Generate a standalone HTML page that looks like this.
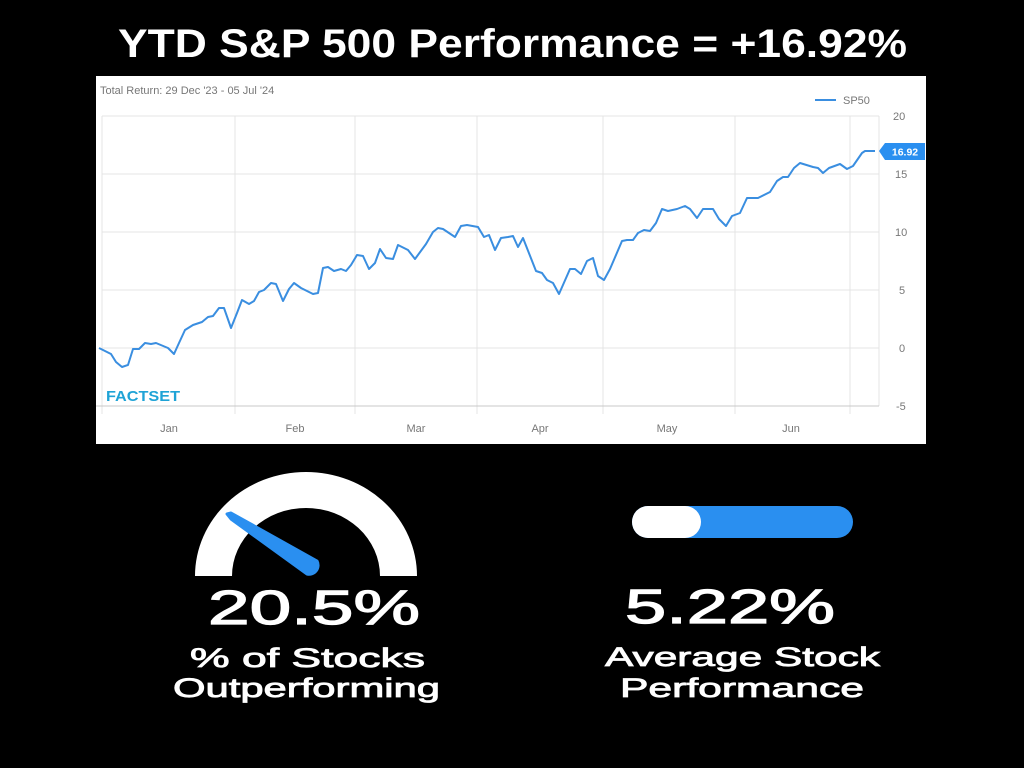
<!DOCTYPE html>
<html><head><meta charset="utf-8"><style>
html,body{margin:0;padding:0;background:#000;width:1024px;height:768px;overflow:hidden}
svg{display:block}
</style></head><body>
<svg width="1024" height="768" viewBox="0 0 1024 768" xmlns="http://www.w3.org/2000/svg">
<rect width="1024" height="768" fill="#000"/>
<text x="118" y="57" font-family="Liberation Sans, sans-serif" font-weight="bold" font-size="40" fill="#fff" textLength="789" lengthAdjust="spacingAndGlyphs">YTD S&amp;P 500 Performance = +16.92%</text>
<rect x="96" y="76" width="830" height="368" fill="#fff"/>
<g stroke="#e4e4e4" stroke-width="1">
<line x1="102" y1="116" x2="879" y2="116"/><line x1="102" y1="174" x2="879" y2="174"/>
<line x1="102" y1="232" x2="879" y2="232"/><line x1="102" y1="290" x2="879" y2="290"/>
<line x1="102" y1="348" x2="879" y2="348"/>
<line x1="102" y1="116" x2="102" y2="414"/><line x1="235" y1="116" x2="235" y2="414"/>
<line x1="355" y1="116" x2="355" y2="414"/><line x1="477" y1="116" x2="477" y2="414"/>
<line x1="603" y1="116" x2="603" y2="414"/><line x1="735" y1="116" x2="735" y2="414"/>
<line x1="850" y1="116" x2="850" y2="414"/><line x1="879" y1="116" x2="879" y2="406"/>
</g>
<line x1="96" y1="406" x2="879" y2="406" stroke="#c8c8c8" stroke-width="1"/>
<g font-family="Liberation Sans, sans-serif" font-size="11" fill="#777">
<text x="100" y="94">Total Return: 29 Dec '23 - 05 Jul '24</text>
<text x="843" y="104">SP50</text>
<text x="893" y="120">20</text><text x="895" y="178">15</text><text x="895" y="236">10</text>
<text x="899" y="294">5</text><text x="899" y="352">0</text><text x="896" y="410">-5</text>
<text x="169" y="432" text-anchor="middle">Jan</text><text x="295" y="432" text-anchor="middle">Feb</text>
<text x="416" y="432" text-anchor="middle">Mar</text><text x="540" y="432" text-anchor="middle">Apr</text>
<text x="667" y="432" text-anchor="middle">May</text><text x="791" y="432" text-anchor="middle">Jun</text>
</g>
<line x1="815" y1="100" x2="836" y2="100" stroke="#3a8ee0" stroke-width="2"/>
<text x="106" y="401" font-family="Liberation Sans, sans-serif" font-weight="bold" font-size="15" fill="#1fa3d6" textLength="74" lengthAdjust="spacingAndGlyphs">FACTSET</text>
<polyline fill="none" stroke="#3a8ee0" stroke-width="2" stroke-linejoin="round" points="99,348 111,354 116,362 122,367 128,365 133,349 139,349 145,343 151,344 156,343 168,348 174,354 179,343 185,330 193,325 202,322 208,317 213,316 219,308 224,308 231,328 237,313 242,300 249,304 254,301 259,292 264,290 271,283 276,284 283,301 289,289 294,283 301,288 313,294 318,293 323,268 328,267 334,271 341,269 346,271 351,265 357,255 363,256 369,269 375,263 380,249 386,258 393,259 398,245 408,250 415,259 426,244 433,232 438,228 443,229 455,237 461,226 467,225 478,227 484,237 489,235 495,250 501,238 508,237 513,236 518,247 523,238 536,271 542,273 547,280 553,283 559,294 570,269 575,269 581,274 587,261 593,258 598,276 604,280 610,269 622,241 627,240 633,240 638,233 644,230 650,231 656,223 662,209 668,211 677,209 685,206 690,209 697,218 703,209 713,209 719,219 726,226 732,216 740,213 747,198 758,198 770,192 777,181 783,177 788,177 794,168 800,163 813,167 818,168 823,173 829,168 840,164 847,169 853,166 862,153 865,151 875,151"/>
<path d="M879,151 L885,143 L925,143 L925,160 L885,160 Z" fill="#2a8ff0"/>
<text x="905" y="155.5" text-anchor="middle" font-family="Liberation Sans, sans-serif" font-weight="bold" font-size="10.5" fill="#fff">16.92</text>
<!-- gauge -->
<path d="M195,576 A111,104 0 0 1 417,576 L380,576 A74,68 0 0 0 232,576 Z" fill="#fff"/>
<path d="M227,514 L231,519 L307,574 A9,9 0 0 0 317,561 L231,513 Z" fill="#2a8ff0" stroke="#2a8ff0" stroke-width="3" stroke-linejoin="round"/>
<g font-family="Liberation Sans, sans-serif" fill="#fff" stroke="#fff" stroke-width="0.8">
<text x="208" y="624" font-size="48" stroke-width="1.2" textLength="212" lengthAdjust="spacingAndGlyphs">20.5%</text>
<text x="190" y="667" font-size="27" textLength="235" lengthAdjust="spacingAndGlyphs">% of Stocks</text>
<text x="173" y="697" font-size="27" textLength="267" lengthAdjust="spacingAndGlyphs">Outperforming</text>
<text x="625" y="623" font-size="48" stroke-width="1.2" textLength="210" lengthAdjust="spacingAndGlyphs">5.22%</text>
<text x="605" y="666" font-size="27" textLength="275" lengthAdjust="spacingAndGlyphs">Average Stock</text>
<text x="620" y="697" font-size="27" textLength="244" lengthAdjust="spacingAndGlyphs">Performance</text>
</g>
<rect x="632" y="506" width="221" height="32" rx="16" fill="#2a8ff0"/>
<rect x="632" y="506" width="69" height="32" rx="16" fill="#fff"/>
</svg>
</body></html>
